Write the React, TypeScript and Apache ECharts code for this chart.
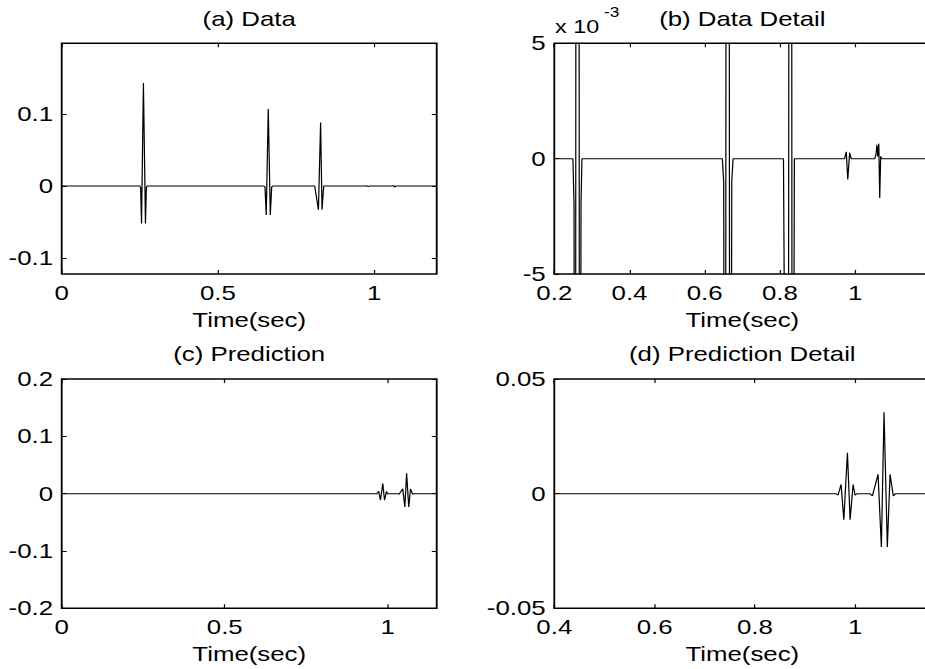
import { useEffect, useRef } from "react";
import * as echarts from "echarts";

// ---------- data ----------
const dataTime = [
  0, 0.2495, 0.2525, 0.2555, 0.2615, 0.268, 0.271, 0.2735,
  0.647, 0.6505, 0.6545, 0.661, 0.6675, 0.672, 0.6755,
  0.8095, 0.8215, 0.8285, 0.833, 0.8385,
  0.972, 0.9765, 0.9805, 0.9855, 0.9895,
  1.052, 1.0555, 1.058, 1.0605, 1.063, 1.0655, 1.068, 1.071,
  1.2,
];
const dataAmp = [
  0, 0, -0.002, -0.052, 0.143, -0.052, -0.002, 0,
  0, -0.001, -0.04, 0.107, -0.04, -0.001, 0,
  0, -0.033, 0.088, -0.033, 0,
  0, 0.0003, -0.0009, 0.00025, 0,
  0, 0.00015, 0.0006, 0.0001, 0.00065, -0.0017, 0.0001, 0,
  0,
];
const predTime = [
  0, 0.962, 0.966, 0.972, 0.9775, 0.9847, 0.99, 0.996, 1.0, 1.004,
  1.03, 1.0345, 1.0458, 1.0524, 1.0577, 1.0643, 1.0697, 1.0762, 1.081,
  1.2,
];
const predAmp = [
  0, 0, -0.0007, 0.004, -0.0114, 0.0178, -0.0114, 0.004, -0.0007, 0,
  0, -0.001, 0.0084, -0.0233, 0.0355, -0.0233, 0.0084, -0.001, 0,
  0,
];

const titles = ["(a) Data", "(b) Data Detail", "(c) Prediction", "(d) Prediction Detail"];
const xName = "Time(sec)";

const aXTicks = [0, 0.5, 1];
const aYTicks = [-0.1, 0, 0.1];
const bXTicks = [0.2, 0.4, 0.6, 0.8, 1];
const bYTicks = [-0.005, 0, 0.005];
const cXTicks = [0, 0.5, 1];
const cYTicks = [-0.2, -0.1, 0, 0.1, 0.2];
const dXTicks = [0.4, 0.6, 0.8, 1];
const dYTicks = [-0.05, 0, 0.05];

const exponentBase = "x 10";
const exponentPower = "-3";

// ---------- layout ----------
const STRETCH = 1.23; // reference is horizontally stretched
const FULL_W = 925;
const FULL_H = 669;
const CHART_W = 960; // wider than the page so that the right panels run past the edge
const FONT = "Liberation Sans, Arial, Helvetica, sans-serif";
const FS = 21;

const fmtPlain = (v: number) => String(Math.round(v * 10000) / 10000);
const fmtMilli = (v: number) => String(Math.round(v * 1000));

export default function App() {
  const ref = useRef<HTMLDivElement>(null);

  useEffect(() => {
    if (!ref.current) return;
    const chart = echarts.init(ref.current, null, { renderer: "svg" });

    const dataPairs = dataTime.map((t, i) => [t, dataAmp[i]]);
    const predPairs = predTime.map((t, i) => [t, predAmp[i]]);

    const col = [
      { left: 61.7 / STRETCH, width: 375 / STRETCH },
      { left: 554.3 / STRETCH, width: 376 / STRETCH },
    ];
    const row = [
      { top: 43.3, height: 230.7 },
      { top: 379, height: 229.3 },
    ];

    const panels = [
      { c: 0, r: 0, xMin: 0, xMax: 1.2, yMin: -0.122, yMax: 0.198, xT: aXTicks, yT: aYTicks, yF: fmtPlain, d: dataPairs },
      { c: 1, r: 0, xMin: 0.2, xMax: 1.2, yMin: -0.005, yMax: 0.005, xT: bXTicks, yT: bYTicks, yF: fmtMilli, d: dataPairs },
      { c: 0, r: 1, xMin: 0, xMax: 1.15, yMin: -0.2, yMax: 0.2, xT: cXTicks, yT: cYTicks, yF: fmtPlain, d: predPairs },
      { c: 1, r: 1, xMin: 0.4, xMax: 1.15, yMin: -0.05, yMax: 0.05, xT: dXTicks, yT: dYTicks, yF: fmtPlain, d: predPairs },
    ];

    const grid: any[] = [];
    const xAxis: any[] = [];
    const yAxis: any[] = [];
    const series: any[] = [];
    const graphic: any[] = [];

    const textStyle = { color: "#000", fontFamily: FONT, fontSize: FS };
    const hiddenLine = { show: false, onZero: false };

    panels.forEach((p, i) => {
      const g = { ...col[p.c], ...row[p.r] };
      grid.push({
        left: g.left,
        top: g.top,
        width: g.width,
        height: g.height,
        show: true,
        borderColor: "#000",
        borderWidth: 1.5,
        backgroundColor: "transparent",
        containLabel: false,
      });
      const tick = (vals: number[]) => ({
        show: true,
        inside: true,
        length: 4,
        customValues: vals,
        lineStyle: { color: "#000", width: 1 },
      });
      xAxis.push({
        type: "value",
        gridIndex: i,
        position: "bottom",
        min: p.xMin,
        max: p.xMax,
        axisLine: hiddenLine,
        splitLine: { show: false },
        axisTick: tick(p.xT),
        axisLabel: {
          ...textStyle,
          customValues: p.xT,
          margin: 8,
          formatter: (v: number) => fmtPlain(v),
        },
        name: xName,
        nameLocation: "middle",
        nameGap: 35,
        nameTextStyle: { ...textStyle },
      });
      xAxis.push({
        type: "value",
        gridIndex: i,
        position: "top",
        min: p.xMin,
        max: p.xMax,
        axisLine: hiddenLine,
        splitLine: { show: false },
        axisTick: tick(p.xT),
        axisLabel: { show: false },
      });
      yAxis.push({
        type: "value",
        gridIndex: i,
        position: "left",
        min: p.yMin,
        max: p.yMax,
        axisLine: hiddenLine,
        splitLine: { show: false },
        axisTick: tick(p.yT),
        axisLabel: {
          ...textStyle,
          customValues: p.yT,
          margin: 7,
          formatter: (v: number) => p.yF(v),
        },
      });
      yAxis.push({
        type: "value",
        gridIndex: i,
        position: "right",
        min: p.yMin,
        max: p.yMax,
        axisLine: hiddenLine,
        splitLine: { show: false },
        axisTick: tick(p.yT),
        axisLabel: { show: false },
      });
      series.push({
        type: "line",
        xAxisIndex: 2 * i,
        yAxisIndex: 2 * i,
        data: p.d,
        symbol: "none",
        showSymbol: false,
        clip: true,
        lineStyle: { color: "#000", width: 1 },
      });
      graphic.push({
        type: "text",
        x: g.left + g.width / 2,
        y: g.top - (p.r === 0 ? 24 : 25.5),
        style: {
          text: titles[i],
          fill: "#000",
          font: `${FS}px ${FONT}`,
          align: "center",
          verticalAlign: "middle",
        },
      });
    });

    graphic.push({
      type: "text",
      x: 555 / STRETCH,
      y: 27,
      style: {
        text: exponentBase,
        fill: "#000",
        font: `19px ${FONT}`,
        align: "left",
        verticalAlign: "middle",
      },
    });
    graphic.push({
      type: "text",
      x: 604 / STRETCH,
      y: 12,
      style: {
        text: exponentPower,
        fill: "#000",
        font: `14px ${FONT}`,
        align: "left",
        verticalAlign: "middle",
      },
    });

    chart.setOption({
      animation: false,
      backgroundColor: "#fff",
      grid,
      xAxis,
      yAxis,
      series,
      graphic,
    });

    return () => chart.dispose();
  }, []);

  return (
    <div
      style={{
        position: "absolute",
        left: 0,
        top: 0,
        width: FULL_W,
        height: FULL_H,
        overflow: "hidden",
        background: "#fff",
      }}
    >
      <div
        ref={ref}
        style={{
          position: "absolute",
          left: 0,
          top: 0,
          width: CHART_W / STRETCH,
          height: FULL_H,
          transform: `scaleX(${STRETCH})`,
          transformOrigin: "0 0",
        }}
      />
    </div>
  );
}
